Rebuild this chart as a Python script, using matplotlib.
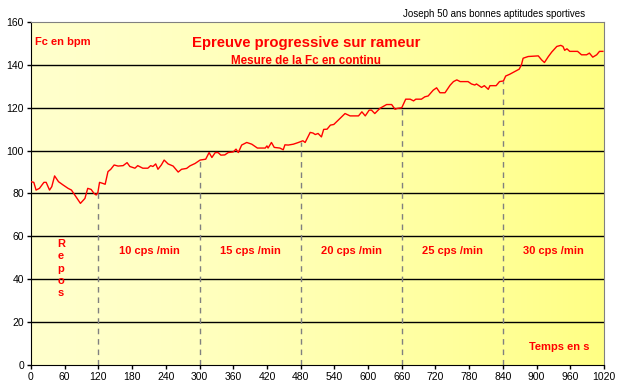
import numpy as np
import matplotlib
matplotlib.use('Agg')
import matplotlib.pyplot as plt

plt.rcParams['font.family'] = ['Liberation Sans', 'DejaVu Sans']

# Heart rate readings (time in s, Fc in bpm)
time = [0, 5, 9, 15, 23, 27, 33, 37, 42, 49, 57, 66, 72, 78, 88, 96, 101, 107, 112, 116,
        119, 122, 128, 132, 137, 142, 148, 155, 164, 171, 176, 185, 190, 199, 208, 213, 217,
        222, 226, 232, 237, 244, 253, 262, 268, 277, 283, 292, 301, 311, 317, 322, 328, 333,
        338, 345, 351, 360, 365, 369, 375, 384, 393, 403, 417, 420, 422, 428, 433, 443, 449,
        452, 458, 467, 476, 484, 488, 497, 502, 506, 511, 517, 521, 527, 533, 539, 550, 559,
        568, 583, 589, 595, 602, 606, 612, 621, 633, 642, 648, 652, 660, 667, 675, 681, 685,
        695, 701, 707, 716, 722, 728, 737, 746, 752, 758, 764, 778, 784, 790, 793, 802, 807,
        814, 817, 828, 834, 841, 845, 852, 861, 869, 873, 876, 885, 903, 909, 914, 921, 927,
        936, 943, 947, 950, 954, 959, 973, 980, 989, 994, 1000, 1007, 1012, 1018]
fc = [85.5, 85.2, 81.6, 82.4, 85.2, 85.2, 81.6, 83.2, 88.2, 85.5, 84, 82.4, 81.6, 79.3, 75.4,
      77.7, 82.4, 81.9, 80.1, 79.3, 80.4, 85.2, 84.7, 84.3, 90.2, 91.3, 93.3, 92.8, 93, 94.4,
      92.6, 91.8, 93, 91.8, 91.8, 93, 92.6, 93.8, 91.3, 93.3, 95.6, 93.8, 92.8, 90.0, 91.3,
      91.7, 92.9, 94, 95.6, 96, 99.1, 96.8, 99.1, 99.1, 97.9, 98, 99.1, 99.4, 100.7, 99.1,
      102.6, 103.8, 103, 101.2, 101.2, 102.2, 101.2, 103.8, 101.5, 101.2, 100.4, 102.7, 102.6,
      103, 103.8, 104.6, 103.8, 108.5, 108.2, 107.5, 108, 106.4, 109.9, 110, 111.9, 112.2,
      115, 117.3, 116.2, 116.2, 118.1, 116.2, 118.9, 118.9, 117.3, 119.7, 121.5, 121.5,
      119.3, 119.7, 120, 124, 124, 123.2, 124, 124, 125.1, 125.5, 128.2, 129.3, 127, 127,
      130.5, 132.2, 133, 132.2, 132.2, 131.1, 130.6, 131.1, 129.5, 130.3, 128.6, 130.3,
      130.3, 132.2, 132.5, 134.8, 135.6, 136.9, 138, 140, 143.1, 143.9, 144.2, 142.3, 141.1,
      143.9, 146, 148.6, 149.1, 148.6, 146.8, 147.5, 146.3, 146.3, 144.7, 144.7, 145.5,
      143.6, 144.7, 146.3, 146.3]

# Stage changes and labels
stage_times = [120, 300, 480, 660, 840]
stage_labels = ['10 cps /min', '15 cps /min', '20 cps /min', '25 cps /min', '30 cps /min']
stage_bounds = [120, 300, 480, 660, 840, 1020]

fig = plt.figure(figsize=(6.2, 3.9), dpi=100)
ax = fig.add_axes([31 / 620, 25 / 390, 573 / 620, 343 / 390])

# yellow gradient background (pale on the left, stronger on the right)
grad = np.linspace(0, 1, 256)
cols = np.ones((1, 256, 3))
cols[0, :, 2] = (204 - 72 * grad ** 1.4) / 255
ax.imshow(cols, extent=[0, 1020, 0, 160], aspect='auto', zorder=0)

for y in range(20, 160, 20):
    ax.axhline(y, color='black', lw=1, zorder=1)

for t in stage_times:
    top = np.interp(t, time, fc)
    ax.plot([t, t], [0, top], color='#808080', lw=1, ls=(0, (4, 3.5)), zorder=1)

ax.plot(time, fc, color='red', lw=1, zorder=3)

ax.set_xlim(0, 1020)
ax.set_ylim(0, 160)
ax.set_xticks(range(0, 1021, 60))
ax.set_yticks(range(0, 161, 20))
ax.tick_params(labelsize=7.5, length=3, width=1, pad=2)
for s in ['top', 'right']:
    ax.spines[s].set_color('#808080')
for s in ['left', 'bottom']:
    ax.spines[s].set_color('black')

red = dict(color='red', fontweight='bold')
ax.text(7, 150.5, 'Fc en bpm', fontsize=8, ha='left', va='center', **red)
ax.text(490, 150, 'Epreuve progressive sur rameur', fontsize=10.7, ha='center', va='center', **red)
ax.text(490, 142, 'Mesure de la Fc en continu', fontsize=8.4, ha='center', va='center', **red)
ax.text(53, 45, 'R\ne\np\no\ns', fontsize=8, ha='center', va='center', linespacing=1.3, **red)
for i, lab in enumerate(stage_labels):
    ax.text((stage_bounds[i] + stage_bounds[i + 1]) / 2, 53, lab, fontsize=8,
            ha='center', va='center', **red)
ax.text(995, 8.5, 'Temps en s', fontsize=8, ha='right', va='center', **red)

fig.text(585 / 620, 1 - 14 / 390, 'Joseph 50 ans bonnes aptitudes sportives',
         fontsize=7, ha='right', va='center')

fig.savefig('out.png', dpi=100)
